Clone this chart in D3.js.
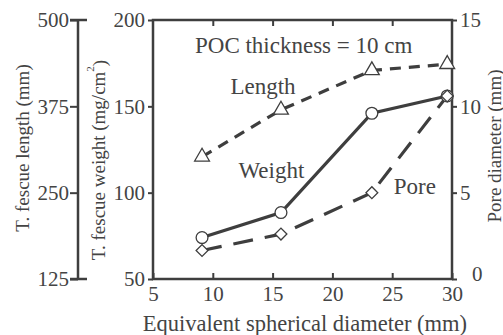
<!DOCTYPE html>
<html>
<head>
<meta charset="utf-8">
<script src="https://cdn.jsdelivr.net/npm/d3@7"></script>
<style>
  body { margin: 0; background: #fff; }
  svg text { font-family: "Liberation Serif", "DejaVu Serif", serif; fill: #444; }
</style>
</head>
<body>
<div id="chart"></div>
<script>
// data
const diameters = [9.1, 15.7, 23.3, 29.6];
const lengthValues = [302, 370, 427, 436];
const weightValues = [74, 88.5, 146, 156];
const poreValues = [1.65, 2.6, 5.0, 10.6];

const xTicks = [5, 10, 15, 20, 25, 30];
const weightTicks = [50, 100, 150, 200];
const lengthTicks = [125, 250, 375, 500];
const poreTicks = [0, 5, 10, 15];

const width = 503, height = 335;
const margins = { top: 20, bottom: 56, left: 153, right: 51 };
const ink = "#3e3e3e";
const serif = '"Liberation Serif", "DejaVu Serif", serif';

const svg = d3.select("#chart").append("svg")
  .attr("width", width).attr("height", height);

const xScale = d3.scaleLinear().domain([5, 30]).range([margins.left, width - margins.right]);
const weightScale = d3.scaleLinear().domain([50, 200]).range([height - margins.bottom, margins.top]);
const lengthScale = d3.scaleLinear().domain([125, 500]).range([height - margins.bottom, margins.top]);
const poreScale = d3.scaleLinear().domain([0, 15]).range([height - margins.bottom, margins.top]);

const yBottom = height - margins.bottom;

function styleAxis(g) {
  g.attr("font-family", serif).attr("font-size", 21);
  g.select(".domain").remove();
  g.selectAll(".tick line").attr("stroke", ink).attr("stroke-width", 2);
  g.selectAll(".tick text").attr("fill", "#444");
}

// bottom axis (inner ticks)
svg.append("g").attr("transform", `translate(0,${yBottom})`)
  .call(d3.axisBottom(xScale).tickValues(xTicks).tickSizeInner(-6).tickSizeOuter(0).tickPadding(7))
  .call(styleAxis);

// top ticks
svg.append("g").attr("transform", `translate(0,${margins.top})`)
  .call(d3.axisTop(xScale).tickValues(xTicks.slice(1, -1)).tickSizeInner(-6).tickSizeOuter(0).tickFormat(""))
  .call(styleAxis);

// weight axis
svg.append("g").attr("transform", `translate(${margins.left},0)`)
  .call(d3.axisLeft(weightScale).tickValues(weightTicks).tickSizeInner(5).tickSizeOuter(0).tickPadding(3))
  .call(styleAxis);

// pore axis
const poreAxis = svg.append("g").attr("transform", `translate(${width - margins.right},0)`)
  .call(d3.axisRight(poreScale).tickValues(poreTicks).tickSizeInner(5).tickSizeOuter(0).tickPadding(3))
  .call(styleAxis);
poreAxis.selectAll(".tick text").filter(d => d === 0).attr("dy", "0.05em").attr("x", 20);

// frame
svg.append("rect")
  .attr("x", margins.left).attr("y", margins.top)
  .attr("width", width - margins.left - margins.right)
  .attr("height", height - margins.top - margins.bottom)
  .attr("fill", "none").attr("stroke", ink).attr("stroke-width", 2.5);

// length axis, standing on its own
const lengthX = 78;
const lengthAxis = svg.append("g").attr("transform", `translate(${lengthX},0)`)
  .call(d3.axisLeft(lengthScale).tickValues(lengthTicks).tickSizeInner(8).tickSizeOuter(0).tickPadding(1))
  .call(styleAxis);
lengthAxis.append("line")
  .attr("x1", 0).attr("x2", 0)
  .attr("y1", lengthScale(500)).attr("y2", lengthScale(125))
  .attr("stroke", ink).attr("stroke-width", 2.5);
lengthAxis.selectAll(".cap").data([500, 125]).enter().append("line")
  .attr("x1", -8).attr("x2", 9)
  .attr("y1", d => lengthScale(d)).attr("y2", d => lengthScale(d))
  .attr("stroke", ink).attr("stroke-width", 2.5);

// lines
const series = [
  { values: lengthValues, scale: lengthScale, dash: "11,8", symbol: d3.symbolTriangle, size: 95, rot: 0 },
  { values: weightValues, scale: weightScale, dash: null, symbol: d3.symbolCircle, size: 110, rot: 0 },
  { values: poreValues, scale: poreScale, dash: "20,12", symbol: d3.symbolSquare, size: 70, rot: 45 }
];

series.forEach(s => {
  const pts = diameters.map((d, i) => [xScale(d), s.scale(s.values[i])]);
  svg.append("path")
    .datum(pts)
    .attr("fill", "none")
    .attr("stroke", ink)
    .attr("stroke-width", 3.2)
    .attr("stroke-dasharray", s.dash)
    .attr("d", d3.line());
});

series.forEach(s => {
  svg.selectAll(null)
    .data(diameters)
    .enter().append("path")
    .attr("transform", (d, i) => `translate(${xScale(d)},${s.scale(s.values[i])}) rotate(${s.rot})`)
    .attr("d", d3.symbol().type(s.symbol).size(s.size))
    .attr("fill", "#fff")
    .attr("stroke", ink)
    .attr("stroke-width", 1.3);
});

// annotations
const notes = [
  { text: "POC thickness = 10 cm", x: 17.6, y: 45 },
  { text: "Length", x: 14.2, y: 86 },
  { text: "Weight", x: 14.9, y: 170 },
  { text: "Pore", x: 26.9, y: 186 }
];
svg.selectAll(".note").data(notes).enter().append("text")
  .attr("x", d => xScale(d.x)).attr("y", d => d.y)
  .attr("text-anchor", "middle").attr("dominant-baseline", "central")
  .attr("font-size", 23)
  .text(d => d.text);

// axis titles
svg.append("text")
  .attr("x", 305).attr("y", 323)
  .attr("text-anchor", "middle").attr("dominant-baseline", "central")
  .attr("font-size", 22.5)
  .text("Equivalent spherical diameter (mm)");

svg.append("text")
  .attr("transform", "translate(22,148) rotate(-90)")
  .attr("text-anchor", "middle").attr("dominant-baseline", "central")
  .attr("font-size", 19)
  .text("T. fescue length (mm)");

const wTitle = svg.append("text")
  .attr("transform", "translate(98,160) rotate(-90)")
  .attr("text-anchor", "middle").attr("dominant-baseline", "central")
  .attr("font-size", 19);
wTitle.append("tspan").text("T. fescue weight (mg/cm");
wTitle.append("tspan").attr("font-size", 11).attr("dy", "-0.7em").text("2");
wTitle.append("tspan").attr("dy", "0.45em").text(")");

svg.append("text")
  .attr("transform", "translate(494,146) rotate(-90)")
  .attr("text-anchor", "middle").attr("dominant-baseline", "central")
  .attr("font-size", 19)
  .text("Pore diameter (mm)");
</script>
</body>
</html>
